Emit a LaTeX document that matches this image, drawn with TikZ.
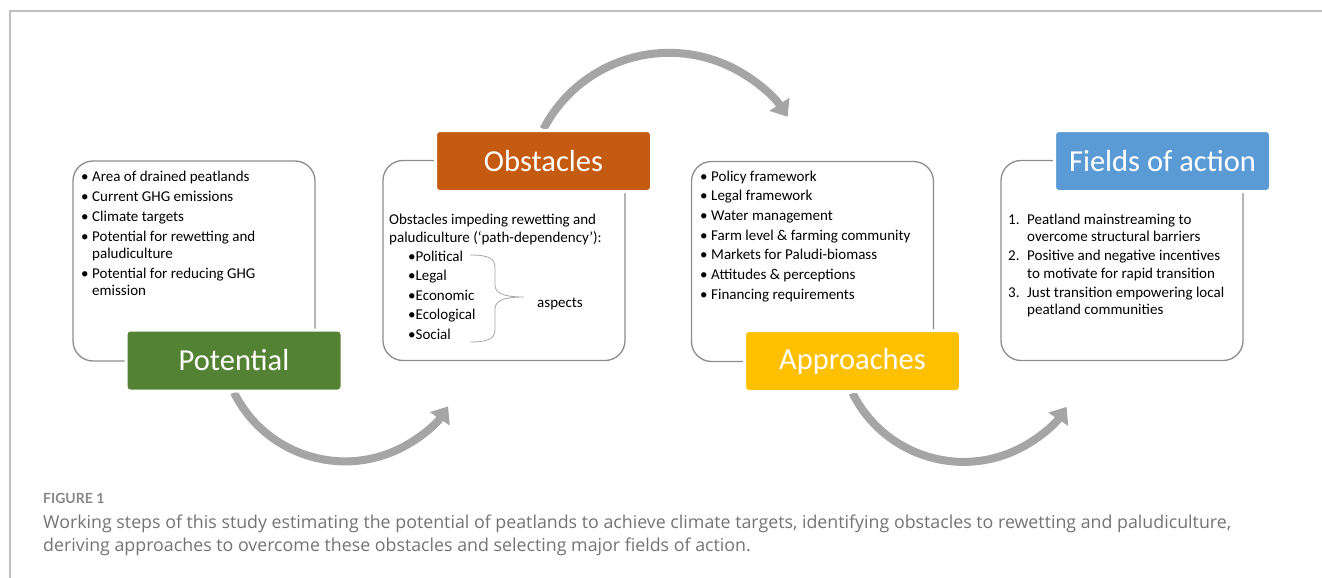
\documentclass[tikz,border=0pt]{standalone}
\usepackage{fontspec}
\setmainfont{Carlito}
\newfontfamily\captionfont{Open Sans}
\newfontfamily\figfont{Lato}
\usetikzlibrary{arrows.meta}
\definecolor{potgreen}{HTML}{548235}
\definecolor{obsorange}{HTML}{C55A11}
\definecolor{appyellow}{HTML}{FFC000}
\definecolor{fieldblue}{HTML}{5B9BD5}
\definecolor{flowgray}{HTML}{A5A5A5}
\definecolor{boxgray}{HTML}{8C8C8C}
\definecolor{framegray}{HTML}{BFBFBF}
\definecolor{captiongray}{HTML}{737373}
\definecolor{bracegray}{HTML}{A6A6A6}
\newcommand{\bul}[1]{\makebox[#1][l]{•}}
\pgfdeclarelayer{background}
\pgfsetlayers{background,main}

\begin{document}
\begin{tikzpicture}[x=1pt,y=-1pt,
  contentbox/.style={draw=boxgray, line width=1.3pt, rounded corners=20pt, fill=white,
    minimum width=242pt, minimum height=200pt, inner sep=0pt},
  steplabel/.style={draw=white, line width=3pt, rounded corners=4pt, text=white,
    minimum width=216pt, minimum height=61pt, inner sep=0pt,
    font=\fontsize{30.5}{36}\selectfont},
  listtext/.style={anchor=north west, inner sep=0pt, align=left,
    font=\fontsize{15}{17.3}\selectfont},
  flow/.style={draw=flowgray, line width=8pt, -{Triangle[length=15pt,width=23pt]}},
  captext/.style={anchor=base west, inner sep=0pt, text=captiongray,
    font=\captionfont\fontsize{17.8}{20}\selectfont}
]
\useasboundingbox (0,0) rectangle (1322,578);

% content boxes
\node[contentbox] (potbox) at (194,261) {};
\node[contentbox] (obsbox) at (504,260.5) {};
\node[contentbox] (appbox) at (812.5,261.5) {};
\node[contentbox] (fieldbox) at (1122,260.5) {};

% step labels
\node[steplabel, fill=potgreen] (potlab) at (234,360.5) {Potential};
\node[steplabel, fill=obsorange] (obslab) at (543.5,161) {Obstacles};
\node[steplabel, fill=appyellow] (applab) at (852.5,361) {Approaches};
\node[steplabel, fill=fieldblue] (fieldlab) at (1162.5,161) {Fields of action};

% box contents
\node[listtext] (pottext) at (81,170.5) {%
  \bul{11pt}Area of drained peatlands\\[2.7pt]
  \bul{11pt}Current GHG emissions\\[2.7pt]
  \bul{11pt}Climate targets\\[2.7pt]
  \bul{11pt}Potential for rewetting and\\
  \hspace*{11pt}paludiculture\\[2.7pt]
  \bul{11pt}Potential for reducing GHG\\
  \hspace*{11pt}emission};

\node[listtext, font=\fontsize{15}{18}\selectfont] (obstext) at (389,213.5) {%
  Obstacles impeding rewetting and\\
  paludiculture (‘path-dependency’):\\[1pt]
  \hspace*{19pt}•Political\\[1.5pt]
  \hspace*{19pt}•Legal\\[1.5pt]
  \hspace*{19pt}•Economic\\[1.5pt]
  \hspace*{19pt}•Ecological\\[1.5pt]
  \hspace*{19pt}•Social};

\node[anchor=base west, inner sep=0pt, font=\fontsize{15}{18}\selectfont]
  (aspects) at (537,307) {aspects};

\node[listtext] (apptext) at (700,170.5) {%
  \bul{11pt}Policy framework\\[2.4pt]
  \bul{11pt}Legal framework\\[2.4pt]
  \bul{11pt}Water management\\[2.4pt]
  \bul{11pt}Farm level \& farming community\\[2.4pt]
  \bul{11pt}Markets for Paludi-biomass\\[2.4pt]
  \bul{11pt}Attitudes \& perceptions\\[2.4pt]
  \bul{11pt}Financing requirements};

\node[listtext] (fieldtext) at (1008,213.5) {%
  \makebox[19pt][l]{1.}Peatland mainstreaming to\\
  \hspace*{19pt}overcome structural barriers\\[2pt]
  \makebox[19pt][l]{2.}Positive and negative incentives\\
  \hspace*{19pt}to motivate for rapid transition\\[2pt]
  \makebox[19pt][l]{3.}Just transition empowering local\\
  \hspace*{19pt}peatland communities};

% brace grouping the aspects
\draw[bracegray, line width=0.8pt]
  (470,255) .. controls (488,255) and (495,258) .. (495,268) -- (495,285)
  .. controls (495,293) and (503,297) .. (524,297)
  .. controls (503,297) and (495,301) .. (495,309) -- (495,329)
  .. controls (495,339) and (488,342) .. (470,342);

% caption
\node[anchor=base west, inner sep=0pt, text=captiongray!85,
  font=\figfont\bfseries\fontsize{14}{16}\selectfont] (figlabel) at (43,503) {FIGURE 1};
\node[captext] (capone) at (43,528) {Working steps of this study estimating the potential of peatlands to achieve climate targets, identifying obstacles to rewetting and paludiculture,};
\node[captext] (captwo) at (43,551) {deriving approaches to overcome these obstacles and selecting major fields of action.};

\begin{pgfonlayer}{background}
  % frame
  \draw[framegray, line width=1.5pt] (10,578) -- (10,11) -- (1322,11);
  % flow arrows between the steps
  \draw[flow] (potlab.south) arc[start angle=153.6, end angle=33.8, radius=124];
  \draw[flow] (obslab.north) arc[start angle=-152.45, end angle=-33.25, radius=141.7];
  \draw[flow] (applab.south) arc[start angle=153.6, end angle=33.8, radius=124];
\end{pgfonlayer}
\end{tikzpicture}
\end{document}
